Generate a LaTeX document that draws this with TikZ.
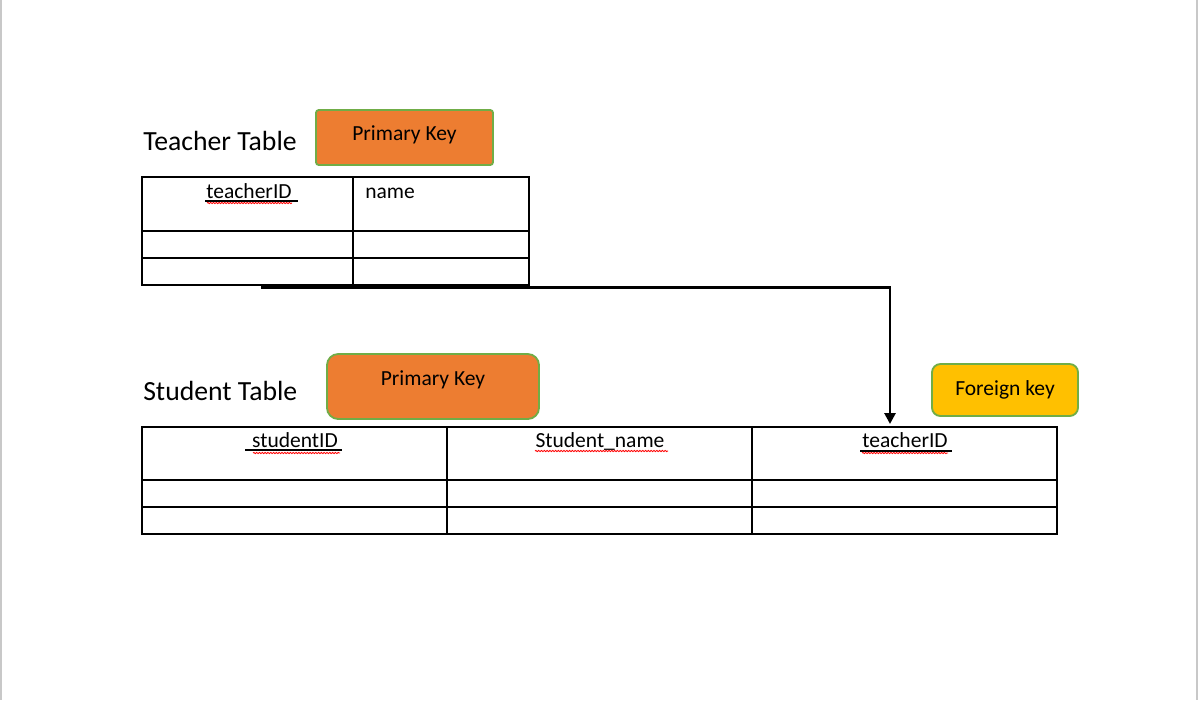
\documentclass[tikz,border=0pt]{standalone}
\usepackage{fontspec}
\setmainfont{Carlito}
\usetikzlibrary{arrows.meta,decorations.pathmorphing}
\definecolor{KeyOrange}{HTML}{ED7D31}
\definecolor{KeyGold}{HTML}{FFC000}
\definecolor{KeyEdge}{HTML}{70AD47}
\definecolor{PageEdge}{HTML}{C8C8C8}
\begin{document}
\begin{tikzpicture}
[
 x=0.025cm, y=-0.025cm,
 inner sep=0mm,
 TITLE/.style={anchor=base west, font=\fontsize{19.7}{22}\selectfont},
 HEAD/.style={anchor=base, font=\fontsize{15.3}{18}\selectfont},
 PKBOX/.style={rectangle, draw=KeyEdge, fill=KeyOrange, line width=1.3pt, font=\fontsize{15.3}{18}\selectfont, text height=10pt},
 FKBOX/.style={PKBOX, fill=KeyGold},
 GRID/.style={draw=black, line width=0.75pt},
 LINK/.style={draw=black, line width=2.1pt, -{Triangle[length=2.7mm,width=2.7mm]}},
 KEYLINE/.style={draw=black, line width=2.1pt},
 SPELL/.style={draw=red, line width=0.6pt, decorate, decoration={snake, amplitude=0.45pt, segment length=2pt}},
 PAGE/.style={draw=PageEdge, line width=0.8pt},
 ]
%
\useasboundingbox (0,0) rectangle (1198,700);
\draw [PAGE]  (1,0) -- (1,700);
\draw [PAGE]  (1197,0) -- (1197,700);
%
\node [TITLE]  (TT)   at (143,150.5)  {Teacher Table};
\node [TITLE]  (ST)   at (143,400)    {Student Table};
%
\node [PKBOX, minimum width=4.425cm, minimum height=1.375cm, rounded corners=2pt, text depth=6.4pt]
      (TPK)  at (404.5,137.5)  {Primary Key};
\node [PKBOX, minimum width=5.3cm, minimum height=1.625cm, rounded corners=8pt, text depth=12.1pt]
      (SPK)  at (433,386.5)  {Primary Key};
\node [FKBOX, minimum width=3.65cm, minimum height=1.3cm, rounded corners=6pt, text depth=2.9pt]
      (SFK)  at (1005,390)  {Foreign key};
%
% teacher table
\draw [GRID]  (142,177) rectangle (529,285);
\foreach \y in {231,258} { \draw [GRID]  (142,\y) -- (529,\y); }
\draw [GRID]  (353,177) -- (353,285);
%
% student table
\draw [GRID]  (142,427) rectangle (1057,534);
\foreach \y in {480,507} { \draw [GRID]  (142,\y) -- (1057,\y); }
\foreach \x in {447,752} { \draw [GRID]  (\x,427) -- (\x,534); }
%
\node [HEAD]  (THID)    at (249,198)  {teacherID};
\node [HEAD, anchor=base west]  (THNAME)  at (365,198)  {name};
\node [HEAD]  (SHID)    at (295,447)  {studentID};
\node [HEAD]  (SHNAME)  at (600,447)  {Student\_name};
\node [HEAD]  (SHTID)   at (905,447)  {teacherID};
%
\draw [SPELL]    (207,203) -- (292,203);
\draw [KEYLINE]  (205,201) -- (298,201);
\draw [SPELL]    (253,453) -- (340,453);
\draw [KEYLINE]  (245,450) -- (342,450);
\draw [SPELL]    (862,453) -- (948,453);
\draw [KEYLINE]  (860,451) -- (952,451);
\draw [SPELL]    (535,451) -- (668,451);
%
\coordinate (TJOIN)  at (261,287.5);
\coordinate (SJOIN)  at (890,424);
\draw [LINK]  (TJOIN) -| (SJOIN);
%
\end{tikzpicture}
\end{document}
